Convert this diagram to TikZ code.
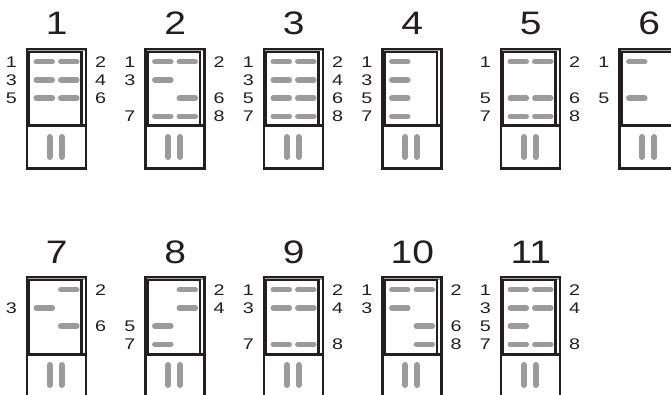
\documentclass[tikz,border=0pt]{standalone}
\usepackage{fontspec}
\setmainfont{Liberation Sans}
\definecolor{barg}{HTML}{9B9B9B}
\definecolor{inkc}{HTML}{231F20}
\tikzset{
  outerline/.style={draw=inkc,line width=2.3pt},
  innerline/.style={draw=inkc,line width=2.5pt},
  hbar/.style={draw=barg,line width=5.5pt,line cap=round},
  vbar/.style={draw=barg,line width=6pt,line cap=round},
  numlabel/.style={inner sep=0pt,font=\fontsize{15.4}{17}\selectfont,text=inkc},
  titlelabel/.style={inner sep=0pt,font=\fontsize{32.5}{36}\selectfont,text=inkc,anchor=base},
}
\newcommand{\widen}[1]{\scalebox{1.28}[1]{#1}}
\begin{document}
\begin{tikzpicture}[x=1pt,y=-1pt]
\useasboundingbox (0,0) rectangle (671,395);
\clip (0,0) rectangle (671,395);
\fill[white] (0,0) rectangle (671,395);
\foreach \c/\r/\t/\s in {0/0/1/{1,2,3,4,5,6},1/0/2/{1,2,3,6,7,8},2/0/3/{1,2,3,4,5,6,7,8},3/0/4/{1,3,5,7},4/0/5/{1,2,5,6,7,8},5/0/6/{1,5},0/1/7/{2,3,6},1/1/8/{2,4,5,7},2/1/9/{1,2,3,4,7,8},3/1/10/{1,2,3,6,8},4/1/11/{1,2,3,4,5,7,8}}{
  \pgfmathsetmacro{\L}{25.8+118.5*\c}
  \pgfmathsetmacro{\T}{49+228*\r}
  % title
  \node[titlelabel] (t\t) at (\L+31,\T-14) {\scalebox{1.2}[1]{\t}};
  % top gap
  \fill[inkc!40] (\L+1,\T) rectangle (\L+60.5,\T+2.5);
  % outer box
  \draw[outerline] (\L+1.2,\T) rectangle (\L+60.3,\T+119.5);
  % inner window
  \draw[innerline] (\L+3.4,\T+2.8) rectangle (\L+55.5,\T+77);
  % divider
  \draw[draw=inkc,line width=3pt] (\L+1.2,\T+77) -- (\L+60.3,\T+77);
  % lower bars
  \draw[vbar] (\L+23.8,\T+88) -- (\L+23.8,\T+108);
  \draw[vbar] (\L+35.8,\T+88) -- (\L+35.8,\T+108);
  % bands and labels
  \foreach \n in \s {
    \pgfmathtruncatemacro{\rowi}{(\n+1)/2}
    \pgfmathtruncatemacro{\isodd}{mod(\n,2)}
    \pgfmathsetmacro{\Y}{\T+12.7+18.2*(\rowi-1)}
    \ifnum\isodd=1
      \draw[hbar] (\L+10.5,\Y) -- (\L+26.5,\Y);
      \node[numlabel,anchor=base east] (l\t-\n) at (\L-8.7,\Y+5.5) {\widen{\n}};
    \else
      \draw[hbar] (\L+35,\Y) -- (\L+51,\Y);
      \node[numlabel,anchor=base west] (l\t-\n) at (\L+69,\Y+5.5) {\widen{\n}};
    \fi
  }
}
\end{tikzpicture}
\end{document}
